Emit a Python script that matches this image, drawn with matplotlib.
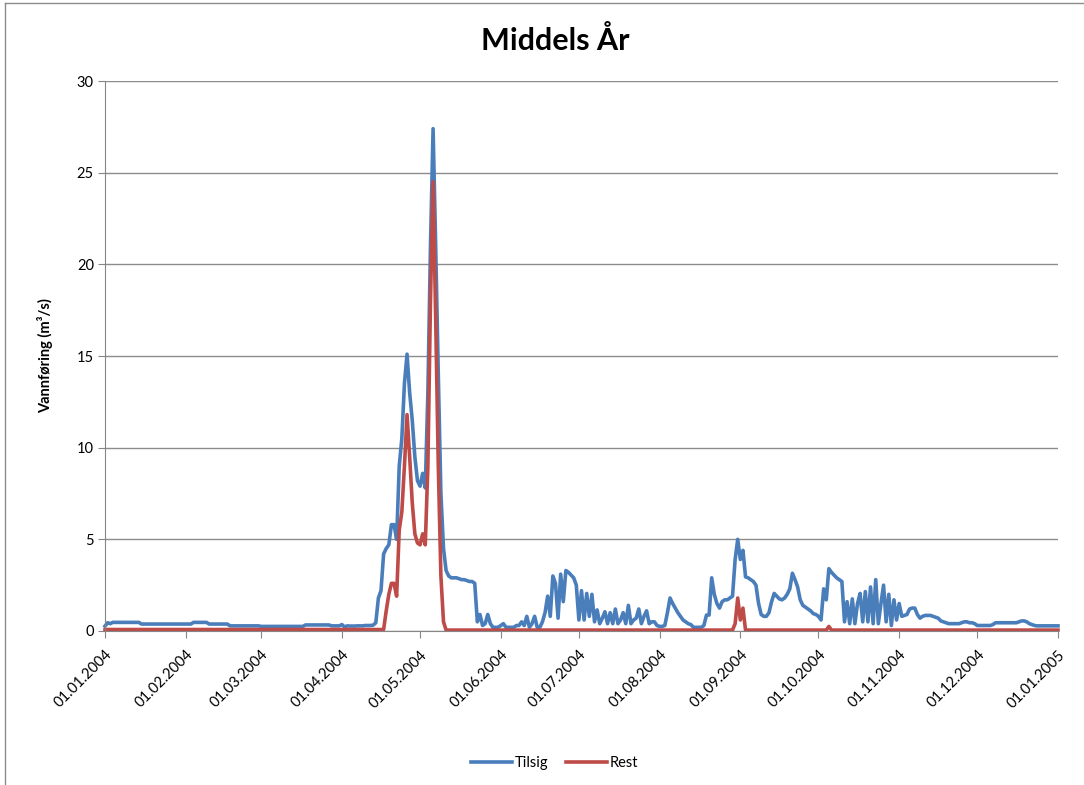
import matplotlib.pyplot as plt
import pandas as pd
from matplotlib.lines import Line2D

plt.rcParams['font.family'] = ['Lato', 'DejaVu Sans']

# daily values, 01.01.2004 .. 01.01.2005
tilsig_jan = [0.27, 0.45, 0.40] + [0.47] * 11 + [0.38] * 17
tilsig_feb = [0.38] * 3 + [0.47] * 6 + [0.38] * 8 + [0.28] * 12
tilsig_mar = [0.25] * 17 + [0.33] * 10 + [0.28] * 4
tilsig_apr = [0.35, 0.22, 0.28, 0.27, 0.27, 0.27, 0.28, 0.28, 0.28, 0.30,
              0.30, 0.30, 0.32, 0.45, 1.8, 2.2, 4.2, 4.5, 4.7, 5.8,
              5.8, 5.0, 9.0, 10.5, 13.5, 15.1, 13.0, 11.5, 9.5, 8.2]
tilsig_may = [7.9, 8.6, 7.8, 13.0, 21.0, 27.4, 21.0, 14.0, 7.5, 4.5,
              3.3, 3.0, 2.9, 2.9, 2.9, 2.85, 2.8, 2.8, 2.75, 2.7,
              2.7, 2.6, 0.5, 0.9, 0.3, 0.4, 0.9, 0.4, 0.2, 0.2, 0.2]
tilsig_jun = [0.3, 0.4, 0.2, 0.2, 0.2, 0.2, 0.3, 0.3, 0.5, 0.3,
              0.8, 0.2, 0.4, 0.8, 0.2, 0.2, 0.5, 1.0, 1.9, 0.8,
              3.0, 2.6, 0.7, 3.1, 1.6, 3.3, 3.2, 3.05, 2.9, 2.5]
tilsig_jul = [0.6, 2.2, 0.6, 2.05, 0.8, 2.0, 0.5, 1.15, 0.4, 0.7,
              1.05, 0.4, 1.0, 0.4, 1.2, 0.4, 0.6, 1.0, 0.4, 1.4,
              0.4, 0.6, 0.7, 1.2, 0.4, 0.8, 1.1, 0.4, 0.5, 0.5, 0.3]
tilsig_aug = [0.25, 0.25, 0.3, 1.0, 1.8, 1.5, 1.25, 1.0, 0.8, 0.6,
              0.5, 0.4, 0.35, 0.2, 0.2, 0.2, 0.2, 0.3, 0.87, 0.87,
              2.9, 2.0, 1.5, 1.25, 1.6, 1.7, 1.7, 1.8, 1.9, 3.9, 5.0]
tilsig_sep = [3.9, 4.4, 2.95, 2.9, 2.8, 2.7, 2.5, 1.5, 0.9, 0.8,
              0.8, 1.0, 1.6, 2.05, 1.9, 1.75, 1.7, 1.8, 2.0, 2.3,
              3.15, 2.8, 2.4, 1.7, 1.4, 1.3, 1.2, 1.1, 0.95, 0.9]
tilsig_oct = [0.8, 0.6, 2.3, 1.7, 3.4, 3.2, 3.05, 2.9, 2.8, 2.7,
              0.5, 1.6, 0.4, 1.75, 0.4, 1.5, 2.05, 0.5, 2.15, 0.5,
              2.4, 0.4, 2.8, 0.4, 1.5, 2.5, 0.5, 2.0, 0.3, 1.7, 0.6]
tilsig_nov = [1.5, 0.8, 0.85, 0.9, 1.2, 1.25, 1.25, 0.9, 0.7, 0.8,
              0.85, 0.85, 0.85, 0.8, 0.75, 0.7, 0.55, 0.5, 0.45, 0.4,
              0.4, 0.4, 0.4, 0.4, 0.45, 0.5, 0.5, 0.45, 0.45, 0.4]
tilsig_dec = [0.3] * 6 + [0.35] + [0.45] * 9 + [0.5, 0.55, 0.55, 0.5, 0.4, 0.35, 0.3] + [0.28] * 8
tilsig_end = [0.28]

rest_jan_mar = [0.08] * 91
rest_apr = [0.08] * 17 + [1.1, 2.0, 2.6, 2.6, 1.9, 5.5, 6.5, 9.0, 11.8, 9.5, 7.0, 5.3, 4.8]
rest_may = [4.7, 5.3, 4.7, 9.0, 18.0, 24.5, 17.0, 9.0, 3.0, 0.5] + [0.05] * 21
rest_jun_jul = [0.05] * 61
rest_aug = [0.05] * 29 + [0.4, 1.8]
rest_sep = [0.6, 1.25] + [0.05] * 28
rest_oct = [0.05] * 4 + [0.25] + [0.05] * 26
rest_nov_end = [0.05] * 62

tilsig = (tilsig_jan + tilsig_feb + tilsig_mar + tilsig_apr + tilsig_may + tilsig_jun
          + tilsig_jul + tilsig_aug + tilsig_sep + tilsig_oct + tilsig_nov + tilsig_dec + tilsig_end)
rest = rest_jan_mar + rest_apr + rest_may + rest_jun_jul + rest_aug + rest_sep + rest_oct + rest_nov_end

dates = pd.date_range('2004-01-01', '2005-01-01', freq='D')
month_ticks = pd.date_range('2004-01-01', '2005-01-01', freq='MS')

W, H = 1084, 785
fig = plt.figure(figsize=(W / 100, H / 100), dpi=100)
ax = fig.add_axes([105 / W, 1 - 631 / H, 953 / W, 550 / H])

ax.plot(dates, tilsig, color='#4a7ebb', lw=2.6, label='Tilsig', clip_on=False)
ax.plot(dates, rest, color='#be4b48', lw=2.6, label='Rest', clip_on=False)

ax.set_ylim(0, 30)
ax.set_xlim(dates[0], dates[-1])
ax.set_yticks(range(0, 31, 5))
ax.set_xticks(month_ticks)
ax.set_xticklabels([d.strftime('%d.%m.%Y') for d in month_ticks], rotation=45,
                   ha='right', rotation_mode='anchor')

ax.grid(axis='y', color='#8c8c8c', lw=1)
ax.set_axisbelow(True)
for s in ['top', 'right']:
    ax.spines[s].set_visible(False)
for s in ['left', 'bottom']:
    ax.spines[s].set_color('#868686')
ax.tick_params(axis='both', color='#868686', length=5, labelsize=10.5)
ax.tick_params(axis='x', pad=7)
ax.tick_params(axis='y', pad=3)

ax.set_ylabel('Vannføring (m³/s)', fontweight='bold', fontsize=10.5)
ax.yaxis.set_label_coords(-0.054, 0.5)

fig.text(555 / W, 1 - 40 / H, 'Middels År', ha='center', va='center',
         fontsize=22, fontweight='bold')

fig.legend(loc='center', bbox_to_anchor=(555 / W, 1 - 763 / H), ncol=2, frameon=False,
           fontsize=10.5, handlelength=2.8, handletextpad=0.2, columnspacing=1.2)

# chart area border (top and left edges visible in the reference)
fig.add_artist(Line2D([5 / W, 1], [1 - 3 / H, 1 - 3 / H], transform=fig.transFigure,
                      color='#8c8c8c', lw=1))
fig.add_artist(Line2D([5 / W, 5 / W], [0, 1 - 3 / H], transform=fig.transFigure,
                      color='#8c8c8c', lw=1))

fig.savefig('out.png', dpi=100)
